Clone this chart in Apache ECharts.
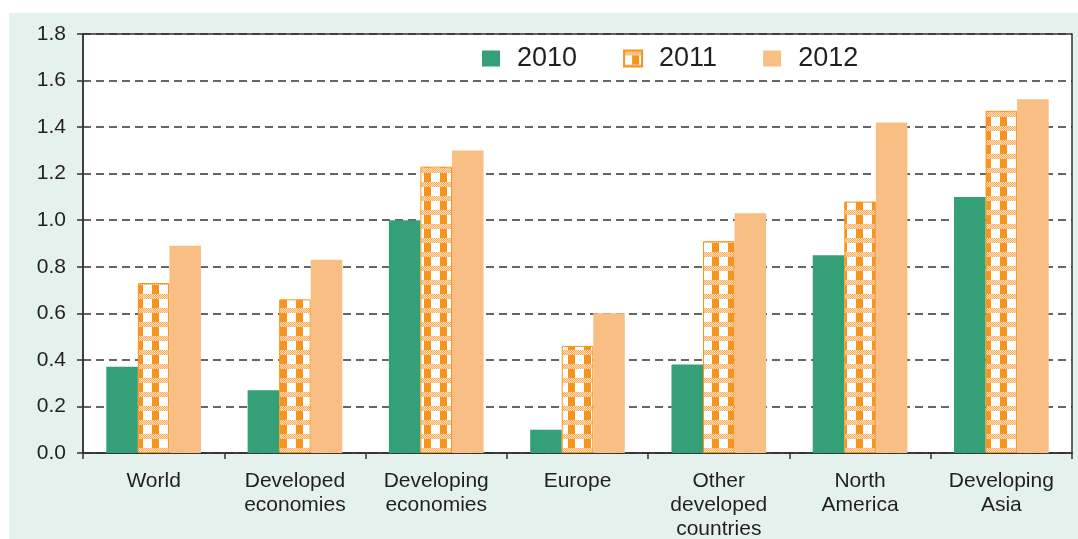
<!DOCTYPE html>
<html>
<head>
<meta charset="utf-8">
<script src="https://cdn.jsdelivr.net/npm/echarts@6/dist/echarts.min.js"></script>
<style>
html,body{margin:0;padding:0;background:#fff;}
#main{width:1078px;height:539px;}
</style>
</head>
<body>
<div id="main"></div>
<script>
// categories and values
var categories = ['World', 'Developed\neconomies', 'Developing\neconomies', 'Europe', 'Other\ndeveloped\ncountries', 'North\nAmerica', 'Developing\nAsia'];
var years = ['2010', '2011', '2012'];
var data2010 = [0.37, 0.27, 1.00, 0.10, 0.38, 0.85, 1.10];
var data2011 = [0.73, 0.66, 1.23, 0.46, 0.91, 1.08, 1.47];
var data2012 = [0.89, 0.83, 1.30, 0.60, 1.03, 1.42, 1.52];

// checkered fill for 2011
function makePattern() {
    var c = document.createElement('canvas');
    c.width = 16; c.height = 14;
    var ctx = c.getContext('2d');
    ctx.fillStyle = '#ffffff';
    ctx.fillRect(0, 0, 16, 14);
    // orange columns
    ctx.fillStyle = '#f7941d';
    ctx.fillRect(8, 0, 7, 14);
    // dotted band
    for (var y = 0; y < 5; y++) {
        for (var x = 0; x < 16; x++) {
            ctx.fillStyle = ((x + y) % 2 == 0) ? '#f7a955' : '#fde3c6';
            ctx.fillRect(x, y, 1, 1);
        }
    }
    return c;
}
var pattern = { image: makePattern(), repeat: 'repeat' };

var myChart = echarts.init(document.getElementById('main'));
var option = {
    backgroundColor: '#ffffff',
    animation: false,
    graphic: [{
        type: 'rect',
        z: -10,
        shape: { x: 9, y: 13, width: 1069, height: 526 },
        style: { fill: '#e5f1ed' }
    }],
    legend: {
        data: years,
        top: 40,
        left: 477,
        icon: 'rect',
        itemWidth: 18,
        itemHeight: 16,
        itemGap: 46,
        textStyle: { fontSize: 27, color: '#231f20', fontFamily: 'Liberation Sans', padding: [0, 0, 0, 12] }
    },
    grid: {
        left: 83, right: 6, top: 34, bottom: 86,
        outerBoundsMode: 'none',
        containLabel: false,
        show: true,
        backgroundColor: '#ffffff',
        borderColor: '#333333',
        borderWidth: 1.5
    },
    xAxis: {
        type: 'category',
        data: categories,
        axisLine: { lineStyle: { color: '#333333', width: 1.5 } },
        axisTick: { show: true, length: 6, lineStyle: { color: '#333333', width: 1.5 } },
        axisLabel: { fontSize: 21, color: '#231f20', fontFamily: 'Liberation Sans', lineHeight: 24, margin: 16, interval: 0 }
    },
    yAxis: {
        type: 'value',
        min: 0,
        max: 1.8,
        interval: 0.2,
        axisLine: { show: true, lineStyle: { color: '#333333', width: 1.5 } },
        axisTick: { show: true, length: 6, lineStyle: { color: '#333333', width: 1.5 } },
        axisLabel: {
            fontSize: 21, color: '#231f20', fontFamily: 'Liberation Sans', margin: 17,
            formatter: function (v) { return v.toFixed(1); }
        },
        splitLine: { show: true, lineStyle: { color: '#333333', width: 1.5, type: [8, 5] } }
    },
    series: [
        {
            name: '2010', type: 'bar', data: data2010,
            barGap: '0%', barCategoryGap: '33%',
            itemStyle: { color: '#33a077' }
        },
        {
            name: '2011', type: 'bar', data: data2011,
            barGap: '0%', barCategoryGap: '33%',
            itemStyle: { color: pattern, borderColor: '#f7941d', borderWidth: 1 }
        },
        {
            name: '2012', type: 'bar', data: data2012,
            barGap: '0%', barCategoryGap: '33%',
            itemStyle: { color: '#f9be84' }
        }
    ]
};
myChart.setOption(option);
</script>
</body>
</html>
